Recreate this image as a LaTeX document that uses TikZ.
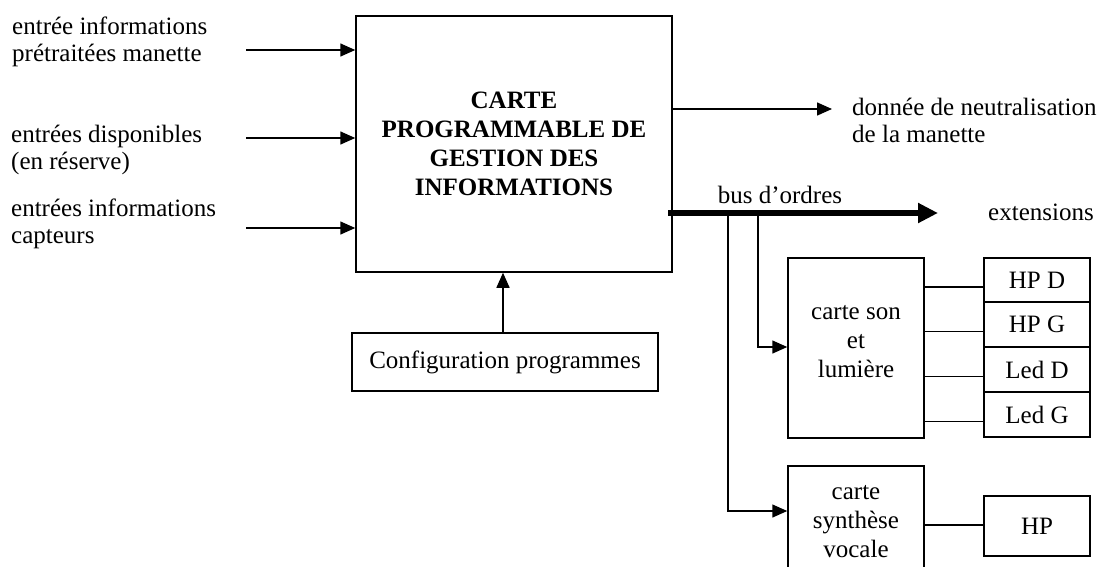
\documentclass[tikz,border=0pt]{standalone}
\usepackage{fontspec}
\setmainfont{Liberation Serif}
\usetikzlibrary{arrows.meta,calc}
\tikzset{
  box/.style={draw, line width=1.5pt, inner sep=0pt, align=center,
              font=\fontsize{25}{29}\selectfont},
  lbl/.style={inner sep=0pt, align=left, font=\fontsize{25}{27}\selectfont},
  arr/.style={line width=1.5pt, -{Triangle[length=15pt,width=13pt]}},
  wire/.style={line width=1.5pt},
  bus/.style={line width=6pt, -{Triangle[length=20pt,width=19pt]}},
}
\begin{document}
\begin{tikzpicture}[x=1pt,y=-1pt]
\useasboundingbox (0,0) rectangle (1100,566);

% main processing board
\node[box, minimum width=316, minimum height=256, font=\fontsize{25}{29}\selectfont\bfseries]
  (main) at (514,144) {CARTE\\PROGRAMMABLE DE\\GESTION DES\\INFORMATIONS};

% input labels and arrows
\node[lbl, anchor=west] (t1) at (12,42) {entrée informations\\prétraitées manette};
\node[lbl, anchor=west] (t2) at (11,150) {entrées disponibles\\(en réserve)};
\node[lbl, anchor=west] (t3) at (11,224) {entrées informations\\capteurs};
\coordinate (i1) at (246,50);
\coordinate (i2) at (246,138);
\coordinate (i3) at (246,228);
\draw[arr] (i1) -- (i1 -| main.west);
\draw[arr] (i2) -- (i2 -| main.west);
\draw[arr] (i3) -- (i3 -| main.west);

% programming configuration
\node[box, minimum width=306, minimum height=58] (cfg) at (505,362) {Configuration programmes};
\coordinate (c1) at (503,333);
\draw[arr] (c1) -- (c1 |- main.south);

% neutralisation output
\node[lbl, anchor=west] (don) at (852,120) {donnée de neutralisation\\de la manette};
\coordinate (o1) at (832,109);
\draw[arr] (o1 -| main.east) -- (o1);

% command bus
\coordinate (bs) at (668,213);
\coordinate (be) at (938,213);
\draw[bus] (bs) -- (be);
\node[lbl] (busl) at (780,195) {bus d’ordres};
\node[lbl, anchor=west] (ext) at (988,212) {extensions};

% sound and light board
\node[box, minimum width=136, minimum height=180] (son) at (856,348) {};
\node[box, draw=none] (sont) at (856,342) {carte son\\[0pt]et\\[0pt]lumière};
\node[box, minimum width=106, minimum height=44] (hpd) at (1037,280) {HP D};
\node[box, minimum width=106, minimum height=45] (hpg) at (1037,324.5) {HP G};
\node[box, minimum width=106, minimum height=45] (ledd) at (1037,369.5) {Led D};
\node[box, minimum width=106, minimum height=45] (ledg) at (1037,414.5) {Led G};
\draw[wire] ([yshift=-7]hpd.west) -- ([yshift=-7]hpd.west -| son.east);
\draw[wire] ([yshift=-7]hpg.west) -- ([yshift=-7]hpg.west -| son.east);
\draw[wire] ([yshift=-7]ledd.west) -- ([yshift=-7]ledd.west -| son.east);
\draw[wire] ([yshift=-7]ledg.west) -- ([yshift=-7]ledg.west -| son.east);

% speech synthesis board
\node[box, minimum width=136, minimum height=112] (syn) at (856,522)
  {carte\\synthèse\\vocale};
\node[box, minimum width=106, minimum height=60] (hp) at (1037,526) {HP};
\draw[wire] ([yshift=1]hp.west) -- ([yshift=1]hp.west -| syn.east);

% bus branches
\coordinate (b1) at (758,213);
\coordinate (b2) at (728,213);
\draw[arr] (b1) |- ([yshift=1]son.west);
\draw[arr] (b2) |- ([yshift=11]syn.west);
\end{tikzpicture}
\end{document}
